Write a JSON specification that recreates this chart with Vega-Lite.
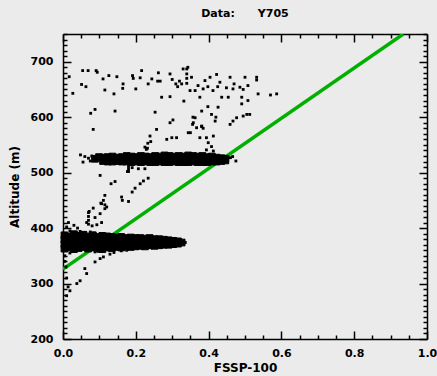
{
  "$schema": "https://vega.github.io/schema/vega-lite/v6.json",
  "width": 364,
  "height": 305,
  "autosize": "none",
  "padding": {"left": 63, "top": 34, "right": 10, "bottom": 37},
  "background": "#ebebeb",
  "title": {"text": "Data:\u00a0\u00a0\u00a0\u00a0\u00a0\u00a0Y705", "font": "DejaVu Sans", "fontSize": 11, "fontWeight": "bold", "color": "black", "anchor": "middle", "offset": 9},
  "config": {
    "view": {"stroke": null, "fill": "#ebebeb"},
    "axis": {"grid": false, "domainColor": "black", "domainWidth": 1.5, "tickColor": "black", "tickWidth": 1.5, "labelFont": "DejaVu Sans", "labelFontWeight": "bold", "labelFontSize": 11, "labelColor": "black", "titleFont": "DejaVu Sans", "titleFontWeight": "bold", "titleFontSize": 12, "titleColor": "black", "labelOverlap": false, "labelFlush": false}
  },
  "datasets": {
    "line": [{"fssp": 0, "alt": 326}, {"fssp": 0.935, "alt": 750}],
    "band": [
      {"fssp":0.004,"alt":363},{"fssp":0.017,"alt":365},{"fssp":0.030,"alt":362},{"fssp":0.043,"alt":364},{"fssp":0.056,"alt":366},{"fssp":0.069,"alt":363},{"fssp":0.082,"alt":365},{"fssp":0.095,"alt":364},{"fssp":0.108,"alt":362},{"fssp":0.121,"alt":365},{"fssp":0.134,"alt":364},{"fssp":0.147,"alt":366},{"fssp":0.160,"alt":365},{"fssp":0.173,"alt":367},{"fssp":0.186,"alt":366},{"fssp":0.199,"alt":367},
      {"fssp":0.004,"alt":371},{"fssp":0.017,"alt":371},{"fssp":0.030,"alt":371},{"fssp":0.043,"alt":371},{"fssp":0.056,"alt":371},{"fssp":0.069,"alt":371},{"fssp":0.082,"alt":371},{"fssp":0.095,"alt":371},{"fssp":0.108,"alt":371},{"fssp":0.121,"alt":371},{"fssp":0.134,"alt":371},{"fssp":0.147,"alt":371},{"fssp":0.160,"alt":371},{"fssp":0.173,"alt":371},{"fssp":0.186,"alt":371},{"fssp":0.199,"alt":371},
      {"fssp":0.004,"alt":379},{"fssp":0.017,"alt":379},{"fssp":0.030,"alt":379},{"fssp":0.043,"alt":379},{"fssp":0.056,"alt":379},{"fssp":0.069,"alt":379},{"fssp":0.082,"alt":379},{"fssp":0.095,"alt":379},{"fssp":0.108,"alt":379},{"fssp":0.121,"alt":379},{"fssp":0.134,"alt":379},{"fssp":0.147,"alt":379},{"fssp":0.160,"alt":379},{"fssp":0.173,"alt":379},{"fssp":0.186,"alt":379},{"fssp":0.199,"alt":379},
      {"fssp":0.004,"alt":387},{"fssp":0.017,"alt":385},{"fssp":0.030,"alt":389},{"fssp":0.043,"alt":386},{"fssp":0.056,"alt":388},{"fssp":0.069,"alt":385},{"fssp":0.082,"alt":387},{"fssp":0.095,"alt":384},{"fssp":0.108,"alt":386},{"fssp":0.121,"alt":385},{"fssp":0.134,"alt":384},{"fssp":0.147,"alt":383},{"fssp":0.160,"alt":384},{"fssp":0.173,"alt":382},{"fssp":0.186,"alt":383},{"fssp":0.199,"alt":382},
      {"fssp":0.212,"alt":368},{"fssp":0.225,"alt":367},{"fssp":0.238,"alt":369},{"fssp":0.251,"alt":368},{"fssp":0.264,"alt":369},{"fssp":0.277,"alt":370},{"fssp":0.290,"alt":370},
      {"fssp":0.212,"alt":375},{"fssp":0.225,"alt":375},{"fssp":0.238,"alt":375},{"fssp":0.251,"alt":375},{"fssp":0.264,"alt":375},{"fssp":0.277,"alt":375},{"fssp":0.290,"alt":375},
      {"fssp":0.212,"alt":382},{"fssp":0.225,"alt":381},{"fssp":0.238,"alt":382},{"fssp":0.251,"alt":380},{"fssp":0.264,"alt":380},{"fssp":0.277,"alt":379},{"fssp":0.290,"alt":378},
      {"fssp":0.303,"alt":371},{"fssp":0.303,"alt":377},{"fssp":0.316,"alt":372},{"fssp":0.316,"alt":376},{"fssp":0.326,"alt":374},
      {"fssp":0.088,"alt":525},{"fssp":0.099,"alt":528},
      {"fssp":0.110,"alt":521},{"fssp":0.123,"alt":520},{"fssp":0.136,"alt":520},{"fssp":0.149,"alt":521},{"fssp":0.162,"alt":520},{"fssp":0.175,"alt":520},{"fssp":0.188,"alt":519},{"fssp":0.201,"alt":520},{"fssp":0.214,"alt":519},{"fssp":0.227,"alt":520},{"fssp":0.240,"alt":519},{"fssp":0.253,"alt":519},{"fssp":0.266,"alt":520},{"fssp":0.279,"alt":519},{"fssp":0.292,"alt":519},{"fssp":0.305,"alt":520},{"fssp":0.318,"alt":519},{"fssp":0.331,"alt":519},{"fssp":0.344,"alt":519},{"fssp":0.357,"alt":520},{"fssp":0.370,"alt":519},{"fssp":0.383,"alt":519},{"fssp":0.396,"alt":519},{"fssp":0.409,"alt":520},{"fssp":0.422,"alt":520},{"fssp":0.435,"alt":521},{"fssp":0.446,"alt":522},
      {"fssp":0.110,"alt":527},{"fssp":0.123,"alt":528},{"fssp":0.136,"alt":529},{"fssp":0.149,"alt":527},{"fssp":0.162,"alt":528},{"fssp":0.175,"alt":530},{"fssp":0.188,"alt":529},{"fssp":0.201,"alt":528},{"fssp":0.214,"alt":530},{"fssp":0.227,"alt":529},{"fssp":0.240,"alt":528},{"fssp":0.253,"alt":530},{"fssp":0.266,"alt":529},{"fssp":0.279,"alt":531},{"fssp":0.292,"alt":530},{"fssp":0.305,"alt":529},{"fssp":0.318,"alt":530},{"fssp":0.331,"alt":529},{"fssp":0.344,"alt":531},{"fssp":0.357,"alt":530},{"fssp":0.370,"alt":529},{"fssp":0.383,"alt":530},{"fssp":0.396,"alt":528},{"fssp":0.409,"alt":529},{"fssp":0.422,"alt":527},{"fssp":0.435,"alt":526},{"fssp":0.446,"alt":525}
    ],
    "scatter": [
      {"fssp":0.017,"alt":673},{"fssp":0.054,"alt":684},{"fssp":0.069,"alt":684},{"fssp":0.091,"alt":684},{"fssp":0.094,"alt":681},{"fssp":0.051,"alt":659},{"fssp":0.063,"alt":655},{"fssp":0.027,"alt":643},{"fssp":0.11,"alt":669},{"fssp":0.126,"alt":675},{"fssp":0.148,"alt":673},{"fssp":0.115,"alt":649},{"fssp":0.14,"alt":642},{"fssp":0.165,"alt":660},{"fssp":0.164,"alt":652},{"fssp":0.191,"alt":675},{"fssp":0.193,"alt":670},{"fssp":0.2,"alt":651},{"fssp":0.216,"alt":684},{"fssp":0.212,"alt":671},{"fssp":0.234,"alt":660},{"fssp":0.244,"alt":669},{"fssp":0.262,"alt":680},{"fssp":0.26,"alt":665},{"fssp":0.267,"alt":665},{"fssp":0.271,"alt":636},{"fssp":0.253,"alt":609},{"fssp":0.294,"alt":678},{"fssp":0.30,"alt":668},{"fssp":0.31,"alt":660},{"fssp":0.32,"alt":665},{"fssp":0.315,"alt":655},{"fssp":0.294,"alt":637},{"fssp":0.33,"alt":687},{"fssp":0.34,"alt":678},{"fssp":0.332,"alt":629},{"fssp":0.302,"alt":595},{"fssp":0.294,"alt":590},{"fssp":0.088,"alt":614},{"fssp":0.076,"alt":607},{"fssp":0.143,"alt":611},{"fssp":0.083,"alt":578},
      {"fssp":0.34,"alt":687},{"fssp":0.343,"alt":690},{"fssp":0.353,"alt":672},{"fssp":0.34,"alt":670},{"fssp":0.326,"alt":660},{"fssp":0.34,"alt":661},{"fssp":0.349,"alt":648},{"fssp":0.363,"alt":648},{"fssp":0.371,"alt":657},{"fssp":0.376,"alt":636},{"fssp":0.39,"alt":666},{"fssp":0.385,"alt":651},{"fssp":0.398,"alt":655},{"fssp":0.404,"alt":672},{"fssp":0.412,"alt":648},{"fssp":0.422,"alt":677},{"fssp":0.431,"alt":663},{"fssp":0.436,"alt":636},{"fssp":0.425,"alt":655},{"fssp":0.449,"alt":653},{"fssp":0.459,"alt":672},{"fssp":0.454,"alt":636},{"fssp":0.467,"alt":651},{"fssp":0.47,"alt":660},{"fssp":0.486,"alt":654},{"fssp":0.491,"alt":636},{"fssp":0.491,"alt":624},{"fssp":0.5,"alt":672},{"fssp":0.495,"alt":650},{"fssp":0.508,"alt":657},{"fssp":0.508,"alt":630},{"fssp":0.532,"alt":672},{"fssp":0.532,"alt":667},{"fssp":0.536,"alt":642},{"fssp":0.57,"alt":640},{"fssp":0.587,"alt":642},{"fssp":0.426,"alt":618},{"fssp":0.398,"alt":619},{"fssp":0.381,"alt":611},{"fssp":0.408,"alt":605},{"fssp":0.42,"alt":600},{"fssp":0.357,"alt":600},{"fssp":0.418,"alt":593},{"fssp":0.477,"alt":599},{"fssp":0.495,"alt":602},{"fssp":0.505,"alt":605},{"fssp":0.513,"alt":605},{"fssp":0.459,"alt":587},{"fssp":0.467,"alt":593},{"fssp":0.356,"alt":587},{"fssp":0.381,"alt":584},
      {"fssp":0.257,"alt":578},{"fssp":0.239,"alt":566},{"fssp":0.285,"alt":560},{"fssp":0.299,"alt":563},{"fssp":0.312,"alt":563},{"fssp":0.344,"alt":572},{"fssp":0.35,"alt":572},{"fssp":0.358,"alt":590},{"fssp":0.363,"alt":599},{"fssp":0.367,"alt":581},{"fssp":0.381,"alt":583},{"fssp":0.385,"alt":580},{"fssp":0.376,"alt":563},{"fssp":0.394,"alt":563},{"fssp":0.399,"alt":554},{"fssp":0.408,"alt":547},{"fssp":0.413,"alt":566},{"fssp":0.413,"alt":539},{"fssp":0.394,"alt":541},{"fssp":0.229,"alt":542},{"fssp":0.225,"alt":546},{"fssp":0.233,"alt":553},{"fssp":0.241,"alt":556},{"fssp":0.232,"alt":544},
      {"fssp":0.048,"alt":532},{"fssp":0.055,"alt":519},{"fssp":0.06,"alt":529},{"fssp":0.07,"alt":526},{"fssp":0.075,"alt":521},{"fssp":0.079,"alt":530},{"fssp":0.46,"alt":527},{"fssp":0.466,"alt":529},{"fssp":0.475,"alt":521},
      {"fssp":0.18,"alt":511},{"fssp":0.18,"alt":506},{"fssp":0.18,"alt":502},{"fssp":0.177,"alt":502},{"fssp":0.19,"alt":509},{"fssp":0.207,"alt":507},{"fssp":0.225,"alt":507},{"fssp":0.102,"alt":495},{"fssp":0.132,"alt":480},{"fssp":0.143,"alt":484},{"fssp":0.212,"alt":480},{"fssp":0.221,"alt":485},{"fssp":0.234,"alt":490},{"fssp":0.198,"alt":472},{"fssp":0.19,"alt":465},{"fssp":0.161,"alt":456},{"fssp":0.163,"alt":450},{"fssp":0.115,"alt":459},{"fssp":0.111,"alt":450},{"fssp":0.106,"alt":444},{"fssp":0.104,"alt":445},{"fssp":0.083,"alt":436},{"fssp":0.072,"alt":430},{"fssp":0.12,"alt":438},{"fssp":0.18,"alt":448},
      {"fssp":0.07,"alt":428},{"fssp":0.07,"alt":421},{"fssp":0.07,"alt":414},{"fssp":0.07,"alt":407},{"fssp":0.088,"alt":419},{"fssp":0.102,"alt":426},{"fssp":0.115,"alt":435},{"fssp":0.115,"alt":442},{"fssp":0.047,"alt":394},{"fssp":0.06,"alt":392},{"fssp":0.075,"alt":393},{"fssp":0.085,"alt":391},{"fssp":0.019,"alt":395},{"fssp":0.106,"alt":410},{"fssp":0.01,"alt":402},{"fssp":0.065,"alt":410},{"fssp":0.08,"alt":404},{"fssp":0.093,"alt":406},
      {"fssp":0.088,"alt":339},{"fssp":0.102,"alt":345},{"fssp":0.111,"alt":348},{"fssp":0.129,"alt":353},{"fssp":0.14,"alt":356},{"fssp":0.06,"alt":327},{"fssp":0.065,"alt":318},{"fssp":0.047,"alt":305},{"fssp":0.038,"alt":300},{"fssp":0.019,"alt":287},{"fssp":0.01,"alt":278},{"fssp":0.014,"alt":294},{"fssp":0.019,"alt":355},{"fssp":0.088,"alt":357},{"fssp":0.096,"alt":358},{"fssp":0.005,"alt":350},{"fssp":0.005,"alt":340},{"fssp":0.008,"alt":330},{"fssp":0.01,"alt":310},{"fssp":0.015,"alt":410},{"fssp":0.03,"alt":405},{"fssp":0.04,"alt":400},{"fssp":0.16,"alt":359},{"fssp":0.175,"alt":360},{"fssp":0.336,"alt":374}
    ]
  },
  "layer": [
    {
      "data": {"name": "line"},
      "mark": {"type": "line", "color": "#00b000", "strokeWidth": 3.5, "clip": true},
      "encoding": {
        "x": {"field": "fssp", "type": "quantitative", "scale": {"domain": [0, 1], "nice": false, "zero": false},
          "axis": {"orient": "bottom", "title": "FSSP-100", "titlePadding": 0,
            "values": [0,0.05,0.1,0.15,0.2,0.25,0.3,0.35,0.4,0.45,0.5,0.55,0.6,0.65,0.7,0.75,0.8,0.85,0.9,0.95,1.0],
            "tickSize": {"condition": {"test": "round(datum.value*100) % 20 == 0", "value": -8}, "value": -4},
            "labelPadding": 16,
            "labelExpr": "round(datum.value*100) % 20 == 0 ? format(datum.value, '.1f') : ''"}},
        "y": {"field": "alt", "type": "quantitative", "scale": {"domain": [200, 750], "nice": false, "zero": false},
          "axis": {"orient": "left", "title": "Altitude (m)", "titlePadding": 9,
            "values": [200,210,220,230,240,250,260,270,280,290,300,310,320,330,340,350,360,370,380,390,400,410,420,430,440,450,460,470,480,490,500,510,520,530,540,550,560,570,580,590,600,610,620,630,640,650,660,670,680,690,700,710,720,730,740,750],
            "tickSize": {"condition": {"test": "datum.value % 100 == 0", "value": -8}, "value": -4},
            "labelPadding": 18,
            "labelExpr": "datum.value % 100 == 0 ? datum.label : ''"}}
      }
    },
    {
      "data": {"name": "band"},
      "mark": {"type": "square", "size": 45, "fill": "black", "stroke": "black", "strokeWidth": 1, "opacity": 1, "filled": true},
      "encoding": {
        "x": {"field": "fssp", "type": "quantitative", "scale": {"domain": [0, 1], "nice": false, "zero": false}, "axis": null},
        "y": {"field": "alt", "type": "quantitative", "scale": {"domain": [200, 750], "nice": false, "zero": false}, "axis": null}
      }
    },
    {
      "data": {"name": "scatter"},
      "mark": {"type": "square", "size": 8, "color": "black", "opacity": 1, "filled": true},
      "encoding": {
        "x": {"field": "fssp", "type": "quantitative", "scale": {"domain": [0, 1], "nice": false, "zero": false},
          "axis": {"orient": "top", "title": null, "labels": false,
            "values": [0,0.05,0.1,0.15,0.2,0.25,0.3,0.35,0.4,0.45,0.5,0.55,0.6,0.65,0.7,0.75,0.8,0.85,0.9,0.95,1.0],
            "tickSize": {"condition": {"test": "round(datum.value*100) % 20 == 0", "value": -8}, "value": -4}}},
        "y": {"field": "alt", "type": "quantitative", "scale": {"domain": [200, 750], "nice": false, "zero": false},
          "axis": {"orient": "right", "title": null, "labels": false,
            "values": [200,210,220,230,240,250,260,270,280,290,300,310,320,330,340,350,360,370,380,390,400,410,420,430,440,450,460,470,480,490,500,510,520,530,540,550,560,570,580,590,600,610,620,630,640,650,660,670,680,690,700,710,720,730,740,750],
            "tickSize": {"condition": {"test": "datum.value % 100 == 0", "value": -8}, "value": -4}}}
      }
    }
  ],
  "resolve": {"axis": {"x": "independent", "y": "independent"}}
}
